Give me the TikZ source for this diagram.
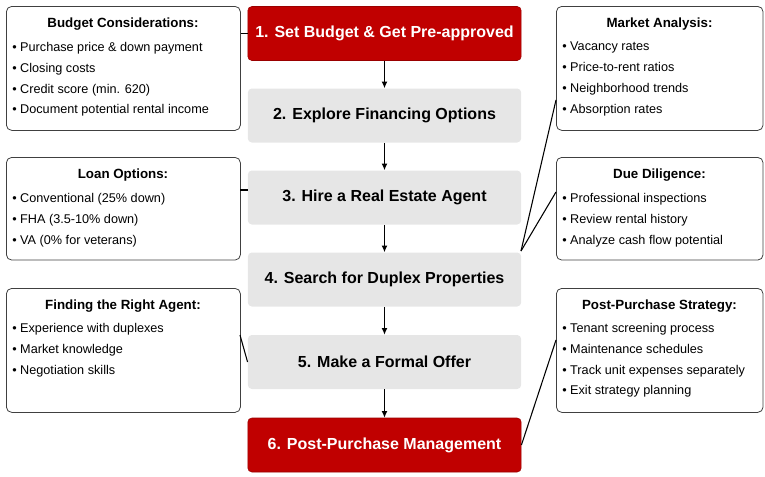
\documentclass[tikz,border=0pt]{standalone}
\usepackage{fontspec}
\setmainfont{Liberation Sans}
\definecolor{redbox}{HTML}{C00000}
\definecolor{graybox}{HTML}{E6E6E6}
\begin{document}
\begin{tikzpicture}[x=0.75pt,y=-0.75pt,
  step box/.style={rounded corners=3pt,minimum width=205pt,minimum height=40.5pt,font=\fontsize{12}{14}\selectfont\bfseries,inner sep=0pt},
  redstep/.style={step box,fill=redbox,text=white,draw=redbox!80!black},
  graystep/.style={step box,fill=graybox,text=black},
  info/.style={draw=black!75,line width=0.6pt,rounded corners=4pt,minimum width=175.5pt,minimum height=93pt,anchor=north west},
  infotitle/.style={font=\fontsize{10}{12}\selectfont\bfseries,anchor=north},
  infolist/.style={font=\fontsize{9.5}{15.6}\selectfont,anchor=north west,align=left,inner sep=0pt},
  conn/.style={draw=black,line width=0.8pt},
  arr/.style={-{Latex[length=5pt,width=4.5pt]},draw=black,line width=0.9pt}]
\usetikzlibrary{arrows.meta}
\useasboundingbox (0,0) rectangle (765,476);
\node[redstep]  (s1) at (384.5,33.5) {1. Set Budget \& Get Pre-approved};
\node[graystep] (s2) at (384.5,115.5) {2. Explore Financing Options};
\node[graystep] (s3) at (384.5,197.5) {3. Hire a Real Estate Agent};
\node[graystep] (s4) at (384.5,279.5) {4. Search for Duplex Properties};
\node[graystep] (s5) at (384.5,362) {5. Make a Formal Offer};
\node[redstep]  (s6) at (384.5,445) {6. Post-Purchase Management};
\foreach \a/\b in {s1/s2,s2/s3,s3/s4,s4/s5,s5/s6} \draw[arr] (\a) -- (\b);
% left boxes
\node[info] (b1) at (6,6) {};
\node[infotitle] at (123,13) {Budget Considerations:};
\node[infolist] at (12,42) {• Purchase price \& down payment\\• Closing costs\\• Credit score (min. 620)\\• Document potential rental income};
\node[info,minimum height=77pt] (b2) at (6,157) {};
\node[infotitle] at (123,164) {Loan Options:};
\node[infolist] at (12,193) {• Conventional (25\% down)\\• FHA (3.5-10\% down)\\• VA (0\% for veterans)};
\node[info] (b3) at (6,288) {};
\node[infotitle] at (123,295) {Finding the Right Agent:};
\node[infolist] at (12,323) {• Experience with duplexes\\• Market knowledge\\• Negotiation skills};
% right boxes
\node[info,minimum width=155pt] (r1) at (556,6) {};
\node[infotitle] at (659.5,13) {Market Analysis:};
\node[infolist] at (562,42) {• Vacancy rates\\• Price-to-rent ratios\\• Neighborhood trends\\• Absorption rates};
\node[info,minimum width=155pt,minimum height=77pt] (r2) at (556,157) {};
\node[infotitle] at (659.5,164) {Due Diligence:};
\node[infolist] at (562,193) {• Professional inspections\\• Review rental history\\• Analyze cash flow potential};
\node[info,minimum width=155pt] (r3) at (556,288) {};
\node[infotitle] at (659.5,295) {Post-Purchase Strategy:};
\node[infolist] at (562,323) {• Tenant screening process\\• Maintenance schedules\\• Track unit expenses separately\\• Exit strategy planning};
% connectors
\coordinate (c4) at (521,251);
\draw[conn] (b1.east |- s1) -- (s1.west);
\draw[conn] (240,190) -- (248,190);
\draw[conn] (240,335) -- (s5.west);
\draw[conn] (556,100) -- (c4);
\draw[conn] (556,192) -- (c4);
\draw[conn] (556,340) -- (s6.east);
\end{tikzpicture}
\end{document}
